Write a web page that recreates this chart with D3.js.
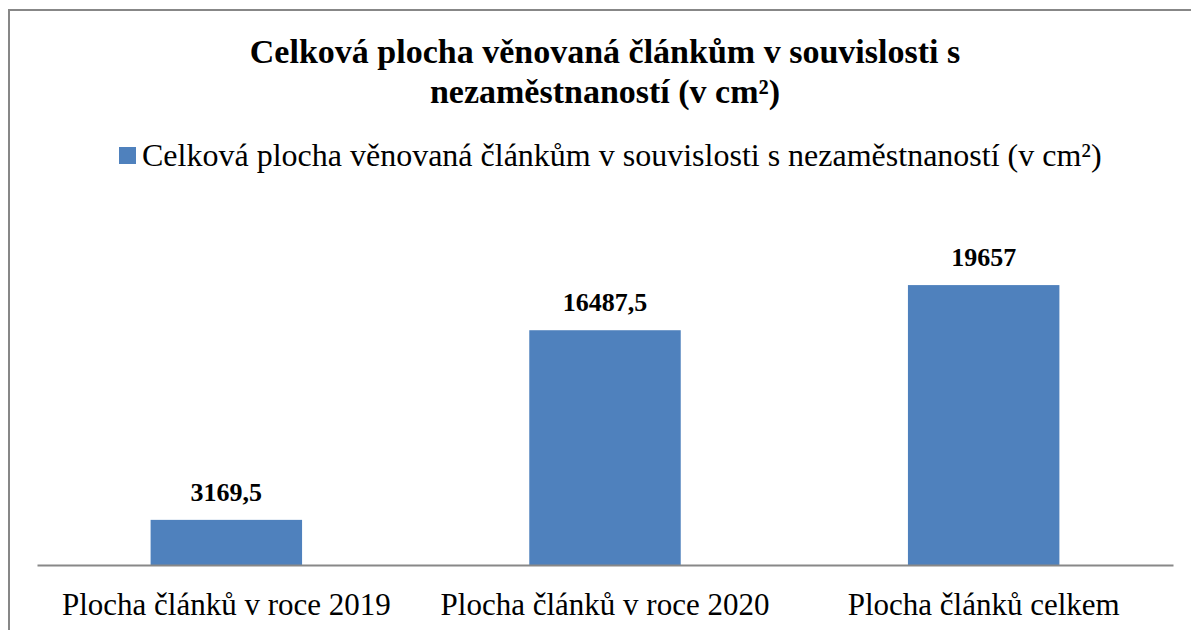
<!DOCTYPE html>
<html>
<head>
<meta charset="utf-8">
<script src="https://cdn.jsdelivr.net/npm/d3@7"></script>
<style>
  body { margin: 0; background: #fff; }
  svg text { font-family: "Liberation Serif", "Times New Roman", serif; fill: #000; }
</style>
</head>
<body>
<div id="chart"></div>
<script>
const categories = ["Plocha článků v roce 2019", "Plocha článků v roce 2020", "Plocha článků celkem"];
const values = [3169.5, 16487.5, 19657];
const valueLabels = ["3169,5", "16487,5", "19657"];
const titleLines = ["Celková plocha věnovaná článkům v souvislosti s", "nezaměstnaností (v cm²)"];
const seriesName = "Celková plocha věnovaná článkům v souvislosti s nezaměstnaností (v cm²)";

const W = 1191, H = 630;
const plot = { left: 37, right: 1173, top: 209, bottom: 565 };

const svg = d3.select("#chart").append("svg")
    .attr("width", W)
    .attr("height", H);

// outer frame (runs off the right and bottom of the picture)
svg.append("rect")
    .attr("x", 9).attr("y", 10)
    .attr("width", 1200).attr("height", 700)
    .attr("fill", "none")
    .attr("stroke", "#878787")
    .attr("stroke-width", 2);

svg.selectAll(".title")
    .data(titleLines)
    .enter().append("text")
    .attr("class", "title")
    .attr("x", 605)
    .attr("y", (d, i) => 63 + i * 40)
    .attr("text-anchor", "middle")
    .attr("font-size", 34)
    .attr("font-weight", "bold")
    .text(d => d);

// legend
const legend = svg.append("g");
legend.append("rect")
    .attr("x", 119).attr("y", 147)
    .attr("width", 17).attr("height", 17)
    .attr("fill", "#4F81BD");
legend.append("text")
    .attr("x", 142).attr("y", 166)
    .attr("font-size", 32)
    .text(seriesName);

const x = d3.scaleBand()
    .domain(categories)
    .range([plot.left, plot.right])
    .paddingInner(0.6)
    .paddingOuter(0.3);

const y = d3.scaleLinear()
    .domain([0, 25000])
    .range([plot.bottom, plot.top]);

svg.selectAll(".bar")
    .data(values)
    .enter().append("rect")
    .attr("class", "bar")
    .attr("x", (d, i) => x(categories[i]))
    .attr("y", d => y(d))
    .attr("width", x.bandwidth())
    .attr("height", d => y(0) - y(d))
    .attr("fill", "#4F81BD");

svg.selectAll(".vlabel")
    .data(values)
    .enter().append("text")
    .attr("class", "vlabel")
    .attr("x", (d, i) => x(categories[i]) + x.bandwidth() / 2)
    .attr("y", d => y(d) - 19)
    .attr("text-anchor", "middle")
    .attr("font-size", 26)
    .attr("font-weight", "bold")
    .text((d, i) => valueLabels[i]);

const xAxis = svg.append("g")
    .attr("transform", `translate(0,${plot.bottom})`)
    .call(d3.axisBottom(x).tickSize(0).tickPadding(0));
xAxis.select(".domain").attr("stroke", "#888").attr("stroke-width", 2);
xAxis.selectAll("text")
    .attr("font-family", "Liberation Serif, serif")
    .attr("font-size", 31)
    .attr("dy", 0)
    .attr("y", 50)
    .attr("fill", "#000");
</script>
</body>
</html>
